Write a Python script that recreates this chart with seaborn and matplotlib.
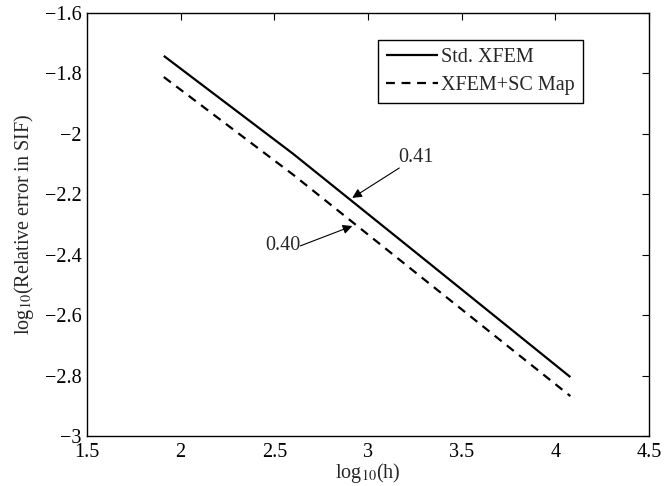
import matplotlib
matplotlib.use('Agg')
import matplotlib.pyplot as plt
import seaborn as sns
import pandas as pd

# values
log_h = [1.91, 2.6, 3.3, 4.08]
std_xfem = [-1.742, -2.066, -2.415, -2.805]
xfem_sc = [-1.812, -2.135, -2.482, -2.868]
series_names = ['Std. XFEM', 'XFEM+SC Map']
x_ticks = [1.5, 2, 2.5, 3, 3.5, 4, 4.5]
y_ticks = [-3, -2.8, -2.6, -2.4, -2.2, -2, -1.8, -1.6]

sns.set_style("white")
plt.rcParams['font.family'] = ['Liberation Serif', 'DejaVu Serif']
plt.rcParams['mathtext.fontset'] = 'stix'

fs = 14.5

df = pd.DataFrame({
    'log_h': log_h * 2,
    'err': std_xfem + xfem_sc,
    'method': [series_names[0]] * len(log_h) + [series_names[1]] * len(log_h),
})

fig = plt.figure(figsize=(6.65, 4.86), dpi=100)
ax = fig.add_axes([0.1308, 0.1029, 0.8452, 0.8704])

sns.lineplot(data=df, x='log_h', y='err', hue='method', style='method',
             palette=['black', 'black'], dashes=[(1, 0), (4, 3)],
             linewidth=1.6, ax=ax, legend=True)

ax.set_xlim(1.5, 4.5)
ax.set_ylim(-3, -1.6)
ax.set_xticks(x_ticks)
ax.set_xticklabels(['1.5', '2', '2.5', '3', '3.5', '4', '4.5'])
ax.set_yticks(y_ticks)
ax.set_yticklabels(['\u22123', '\u22122.8', '\u22122.6', '\u22122.4', '\u22122.2', '\u22122', '\u22121.8', '\u22121.6'])
ax.tick_params(direction='in', top=True, right=True, length=5, width=0.8,
               labelsize=fs, colors='black')
ax.tick_params(axis='x', pad=5)
ax.tick_params(axis='y', pad=4)
for s in ax.spines.values():
    s.set_color('black')
    s.set_linewidth(1.0)

ax.set_xlabel(r'log$_{10}$(h)', fontsize=fs, labelpad=-1)
ax.set_ylabel(r'log$_{10}$(Relative error in SIF)', fontsize=fs, labelpad=6)

leg = ax.legend(loc='upper right', bbox_to_anchor=(0.8826, 0.936), borderaxespad=0,
                fontsize=fs, handlelength=2.6, handletextpad=0.15, borderpad=0.4,
                labelspacing=0.45, fancybox=False, framealpha=1)
leg.get_frame().set_edgecolor('black')
leg.get_frame().set_linewidth(1.0)

# slope annotations
ax.annotate('', xy=(2.916, -2.212), xytext=(3.167, -2.113),
            arrowprops=dict(arrowstyle='-|>', color='black', lw=0.8,
                            mutation_scale=14, shrinkA=0, shrinkB=0))
ax.text(3.16, -2.11, '0.41', fontsize=fs, ha='left', va='bottom')
ax.annotate('', xy=(2.916, -2.305), xytext=(2.638, -2.371),
            arrowprops=dict(arrowstyle='-|>', color='black', lw=0.8,
                            mutation_scale=14, shrinkA=0, shrinkB=0))
ax.text(2.638, -2.37, '0.40', fontsize=fs, ha='right', va='center')

fig.savefig('out.png', dpi=100)
